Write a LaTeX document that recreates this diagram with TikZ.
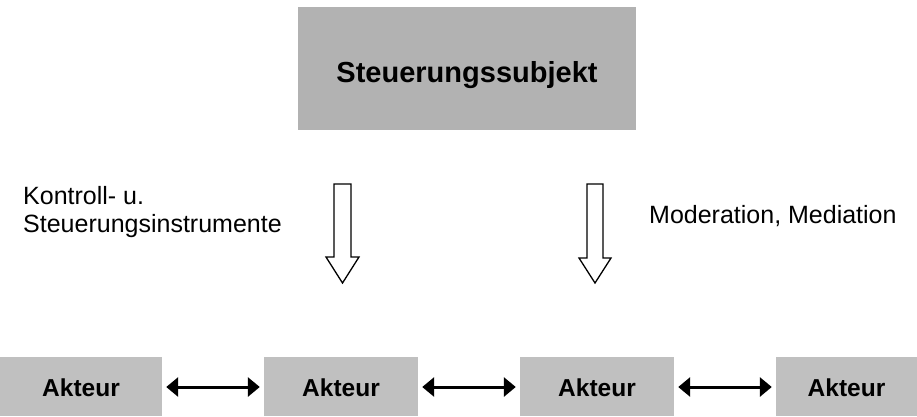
\documentclass[tikz,border=0pt]{standalone}
\usepackage{fontspec}
\setmainfont{Liberation Sans}
\usetikzlibrary{arrows.meta}
\definecolor{topgray}{HTML}{B2B2B2}
\definecolor{botgray}{HTML}{C0C0C0}
\tikzset{
  subjbox/.style={fill=topgray, draw=none, minimum width=338pt, minimum height=123pt, inner sep=0pt,
    text height=27pt, text depth=0pt,
    font=\fontsize{29}{33}\selectfont\bfseries},
  actorbox/.style={fill=botgray, draw=none, minimum height=59pt, inner sep=0pt,
    text height=20.4pt, text depth=0pt,
    font=\fontsize{24.5}{28}\selectfont\bfseries},
  label/.style={inner sep=0pt, anchor=base west, font=\fontsize{25}{28}\selectfont, align=left},
  dblarrow/.style={line width=3pt, {Triangle[length=12pt,width=19pt]}-{Triangle[length=12pt,width=19pt]}, shorten <=0pt, shorten >=0pt},
  hollow/.style={draw=black, fill=white, line width=1.3pt, line join=miter}
}
\begin{document}
\begin{tikzpicture}[x=1pt,y=-1pt]
\useasboundingbox (0,0) rectangle (917,416);
\fill[white] (0,0) rectangle (917,416);
% top box
\node[subjbox] (subj) at (467,68.5) {Steuerungssubjekt};
% actors
\node[actorbox, minimum width=162pt] (a1) at (81,386.5) {Akteur};
\node[actorbox, minimum width=154pt] (a2) at (341,386.5) {Akteur};
\node[actorbox, minimum width=154pt] (a3) at (597,386.5) {Akteur};
\node[actorbox, minimum width=141pt] (a4) at (846.5,386.5) {Akteur};
% double arrows
\coordinate (l1) at ([xshift=4pt,yshift=-0.5pt]a1.east);
\coordinate (r1) at ([xshift=-4pt,yshift=-0.5pt]a2.west);
\coordinate (l2) at ([xshift=4pt,yshift=-0.5pt]a2.east);
\coordinate (r2) at ([xshift=-4pt,yshift=-0.5pt]a3.west);
\coordinate (l3) at ([xshift=4pt,yshift=-0.5pt]a3.east);
\coordinate (r3) at ([xshift=-4pt,yshift=-0.5pt]a4.west);
\draw[dblarrow] (l1) -- (r1);
\draw[dblarrow] (l2) -- (r2);
\draw[dblarrow] (l3) -- (r3);
% hollow arrows
\draw[hollow] (334,184) -- (351,184) -- (351,257) -- (359,257) -- (342.5,283) -- (326,257) -- (334,257) -- cycle;
\draw[hollow] (587,184) -- (603,184) -- (603,258) -- (611,258) -- (595,283) -- (579,258) -- (587,258) -- cycle;
% labels
\node[label] (lab1) at (23,232) {Kontroll- u.\\Steuerungsinstrumente};
\node[label] (lab2) at (649,223) {Moderation, Mediation};
\end{tikzpicture}
\end{document}
